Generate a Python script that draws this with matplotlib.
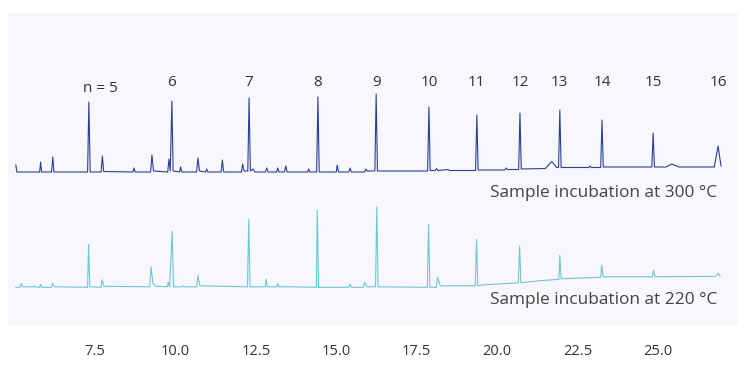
import matplotlib
matplotlib.use("Agg")
import matplotlib.pyplot as plt

# retention time (min) and signal (arbitrary units above baseline)
t300 = [5.04, 5.07, 5.78, 5.81, 5.84, 6.15, 6.19, 6.22, 7.27, 7.31, 7.35, 7.69, 7.73, 7.77,
        8.68, 8.71, 8.75, 9.23, 9.27, 9.32, 9.76, 9.80, 9.84, 9.89, 9.93, 10.13, 10.16, 10.20,
        10.66, 10.70, 10.75, 10.94, 10.97, 11.01, 11.42, 11.46, 11.50, 12.05, 12.09, 12.13,
        12.25, 12.29, 12.33, 12.42, 12.46, 12.80, 12.84, 12.88, 13.15, 13.18, 13.22, 13.39,
        13.43, 13.47, 14.11, 14.14, 14.18, 14.39, 14.43, 14.47, 15.00, 15.03, 15.07, 15.39,
        15.43, 15.47, 15.88, 15.92, 15.96, 16.20, 16.24, 16.28, 17.84, 17.88, 17.92, 18.08,
        18.12, 18.16, 18.47, 18.52, 19.33, 19.37, 19.41, 20.24, 20.28, 20.32, 20.67, 20.71,
        20.75, 21.50, 21.70, 21.85, 21.91, 21.95, 21.99, 22.85, 22.89, 22.93, 23.22, 23.26,
        23.30, 24.81, 24.85, 24.89, 25.25, 25.43, 25.65, 26.75, 26.87, 26.96]
s300 = [7, 0, 0, 10, 0, 0, 15, 0, 0, 70, 0, 0, 16, 0.5,
        0, 4, 0, 0, 17, 1, 0, 13, 1, 71, 1, 0, 5, 0,
        0, 14, 1, 0, 3, 0, 0, 12, 0, 0, 8, 1,
        1, 74, 1, 3, 0, 0, 4, 0, 0, 4, 0, 0,
        6, 0, 0, 3, 0, 0, 75, 0, 0, 7, 0, 0,
        4, 0, 0, 3, 1, 1, 78, 1, 1, 65, 1.5, 1.5,
        3.5, 1.5, 2.5, 1.5, 1.5, 57, 2, 2, 4, 2.5, 2.5, 59,
        3, 3.5, 10.5, 4.5, 4.5, 62, 4.5, 4.5, 6, 4.5, 4.5, 52,
        5, 5, 39, 5, 5, 8, 5, 5, 26, 6]

t220 = [5.04, 5.17, 5.21, 5.25, 5.58, 5.61, 5.64, 5.78, 5.81, 5.84, 6.15, 6.18, 6.24,
        7.27, 7.30, 7.34, 7.69, 7.72, 7.78, 9.20, 9.24, 9.30, 9.40, 9.75, 9.78, 9.82,
        9.90, 9.94, 10.20, 10.23, 10.26, 10.66, 10.70, 10.76, 12.24, 12.28, 12.32,
        12.79, 12.82, 12.86, 13.15, 13.18, 13.22, 13.40, 13.44, 13.48, 14.38, 14.41,
        14.45, 15.39, 15.43, 15.47, 15.84, 15.88, 15.93, 15.97, 16.22, 16.26, 16.30,
        17.83, 17.87, 17.91, 18.11, 18.15, 18.23, 19.32, 19.36, 19.40, 19.60, 20.66,
        20.70, 20.74, 21.30, 21.92, 21.95, 21.99, 23.22, 23.25, 23.30, 24.82, 24.86,
        24.91, 26.80, 26.87, 26.93]
s220 = [0, 0, 4, 0.5, 0.5, 1.5, 0.5, 0, 3, 0, 0, 4, 0.5,
        0, 43, 0.5, 0, 7.5, 1, 0.5, 20.5, 4, 1, 0.5, 5, 0.5,
        56, 0.5, 0.5, 1.5, 0.5, 0.5, 12, 1.5, 0.5, 68, 0.5,
        0.5, 8, 0.5, 0.5, 3.5, 0.5, 0.5, 1, 0.5, 0, 77,
        0, 0, 3, 0, 0, 5, 2, 0.5, 0.5, 80.5, 0.5,
        0, 63, 0, 0, 10, 1.5, 1.5, 48, 1.5, 2.5, 4.5,
        41, 4.5, 6.5, 8, 32, 8.5, 10, 22, 10.5, 10.5, 17,
        10.5, 11, 14, 11.5]

carbon_n = [5, 6, 7, 8, 9, 10, 11, 12, 13, 14, 15, 16]
peak_t = [7.31, 9.89, 12.29, 14.43, 16.24, 17.88, 19.37, 20.71, 21.95, 23.26, 24.85, 26.87]
xticks = [7.5, 10.0, 12.5, 15.0, 17.5, 20.0, 22.5, 25.0]
trace_labels = ["Sample incubation at 300 °C", "Sample incubation at 220 °C"]

plt.rcParams["font.family"] = ["Open Sans", "DejaVu Sans"]

fig = plt.figure(figsize=(7.47, 3.67), dpi=100)
ax = fig.add_axes([8 / 747, 42 / 367, 730 / 747, 312 / 367])
ax.set_facecolor("#f8f8fc")
for sp in ax.spines.values():
    sp.set_visible(False)

off_top, off_bot = 153, 37.7
ax.plot(t300, [v + off_top for v in s300], color="#2b3f98", lw=0.8)
ax.plot(t220, [v + off_bot for v in s220], color="#6cc6d6", lw=0.8)

for n, t in zip(carbon_n, peak_t):
    if n == 5:
        ax.annotate("n = 5", (t, 237), xytext=(8, 0), textcoords="offset points",
                    ha="center", va="center", fontsize=11, color="#333333")
    else:
        ax.text(t, 242, str(n), ha="center", va="center", fontsize=11, color="#333333")

ax.text(26.84, 132, trace_labels[0], ha="right", va="center", fontsize=12.4, color="#444444")
ax.text(26.84, 25, trace_labels[1], ha="right", va="center", fontsize=12.4, color="#444444")

ax.set_xlim(4.796, 27.488)
ax.set_ylim(0, 312)
ax.set_xticks(xticks)
ax.set_xticklabels([f"{v:.1f}" for v in xticks])
ax.set_yticks([])
ax.tick_params(axis="x", length=0, pad=14, labelsize=10.5, labelcolor="#333333")

fig.savefig("out.png", dpi=100)
